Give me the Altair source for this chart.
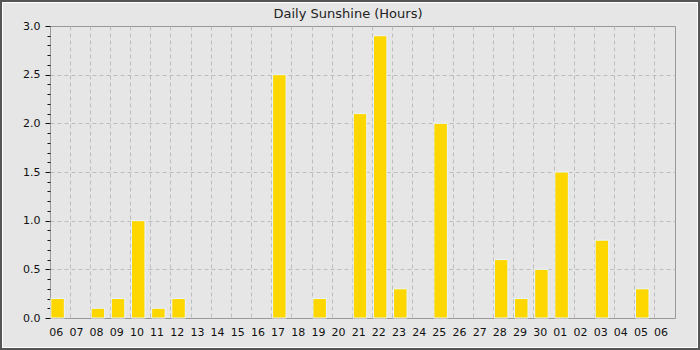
import altair as alt
import pandas as pd

TITLE = "Daily Sunshine (Hours)"
days = ["06", "07", "08", "09", "10", "11", "12", "13", "14", "15", "16", "17", "18",
        "19", "20", "21", "22", "23", "24", "25", "26", "27", "28", "29", "30",
        "01", "02", "03", "04", "05", "06"]
hours = [0.2, 0.0, 0.1, 0.2, 1.0, 0.1, 0.2, 0.0, 0.0, 0.0, 0.0, 2.5, 0.0,
         0.2, 0.0, 2.1, 2.9, 0.3, 0.0, 2.0, 0.0, 0.0, 0.6, 0.2, 0.5,
         1.5, 0.0, 0.8, 0.0, 0.3, 0.0]
y_ticks = [round(i / 10, 1) for i in range(31)]

keys = [f"{i}|{d}" for i, d in enumerate(days)]
df = pd.DataFrame({"key": keys, "hours": hours})

FONT = "DejaVu Sans"
MAJOR = "abs(datum.value*2 - round(datum.value*2)) < 0.01"

x_axis = alt.Axis(
    title=None, bandPosition=0, labelOffset=-3.8, ticks=False, domain=False,
    grid=True, gridColor="#bdbdbd", gridDash=[4, 3], gridWidth=1,
    gridOpacity={"condition": {"test": "datum.index == 0", "value": 0}, "value": 1},
    labelAngle=0, labelPadding=8, labelFont=FONT, labelFontSize=11,
    labelColor="#111", labelExpr="split(datum.label, '|')[1]",
)
y_axis = alt.Axis(
    title=None, values=y_ticks, domain=False,
    labelExpr=f"{MAJOR} ? format(datum.value, '.1f') : ''",
    labelOverlap=False, labelFont=FONT, labelFontSize=11, labelColor="#111",
    labelPadding=5,
    tickColor="#111", tickWidth=1,
    tickSize={"condition": {"test": MAJOR, "value": 5}, "value": 3},
    grid=True, gridColor="#bdbdbd", gridDash=[4, 3], gridWidth=1,
    gridOpacity={"condition": {"test": f"{MAJOR} && datum.value > 0.01 && datum.value < 2.99",
                               "value": 1}, "value": 0},
)

bars = alt.Chart(df).transform_filter("datum.hours > 0").mark_bar(
    width=13.5, xOffset=-2.5, color="#FFD700", stroke="#e8f4ff", strokeWidth=1
).encode(
    x=alt.X("key:N", sort=None,
            scale=alt.Scale(domain=keys, paddingInner=0, paddingOuter=0), axis=x_axis),
    y=alt.Y("hours:Q", scale=alt.Scale(domain=[0, 3], nice=False), axis=y_axis),
)

one = alt.Data(values=[{}])

frame_outer = alt.Chart(one).mark_rect(
    fillOpacity=0, stroke="#555555", strokeWidth=2
).encode(x=alt.value(-49), x2=alt.value(649), y=alt.value(-25), y2=alt.value(323))

frame_inner = alt.Chart(one).mark_rect(
    fillOpacity=0, stroke="#ffffff", strokeWidth=1
).encode(x=alt.value(-47.5), x2=alt.value(647.5), y=alt.value(-23.5), y2=alt.value(321.5))

title = alt.Chart(one).mark_text(
    text=TITLE, font=FONT, fontSize=13, color="#222", align="center", baseline="alphabetic"
).encode(x=alt.value(298), y=alt.value(-8.5))

chart = alt.layer(bars, frame_outer, frame_inner, title).properties(
    width=625, height=292,
    padding={"left": 50, "top": 26, "right": 25, "bottom": 32},
    autosize=alt.AutoSizeParams(type="none"),
    background="#e6e6e6",
).configure_view(stroke="#999999", strokeWidth=1)

chart.save("out.html", embed_options={"renderer": "svg", "actions": False})
